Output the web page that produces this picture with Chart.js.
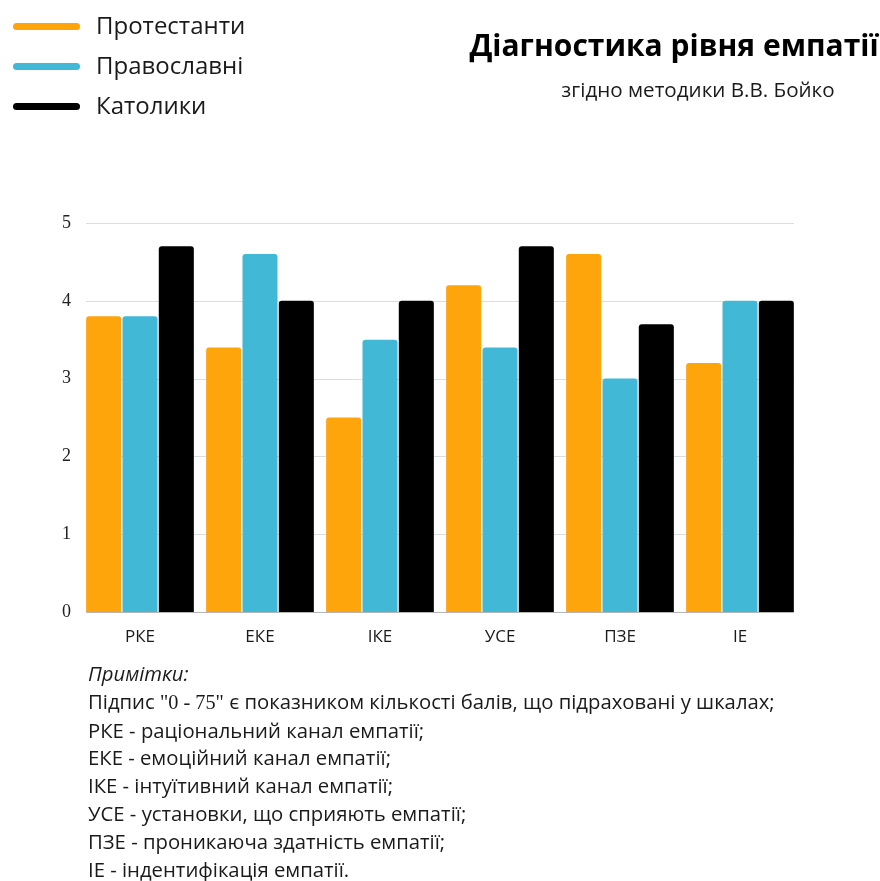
<!DOCTYPE html>
<html>
<head>
<meta charset="utf-8">
<script src="https://cdn.jsdelivr.net/npm/chart.js@4.4.1/dist/chart.umd.min.js"></script>
<style>
  html, body { margin:0; padding:0; background:#fff; }
  body { width:880px; height:881px; position:relative; overflow:hidden; font-family:"Open Sans", sans-serif; color:#1a1a1a; }
  #wrap { position:absolute; left:0; top:0; width:880px; height:881px; }
  #legend { position:absolute; left:0; top:0; }
  .lg { position:absolute; left:13px; width:300px; height:40px; }
  .lg .mk { position:absolute; left:0; top:-3px; width:67px; height:7px; border-radius:4px; }
  .lg .tx { position:absolute; left:83px; top:-18px; font-size:24px; line-height:34px; white-space:nowrap; color:#1a1a1a; }
  #title { position:absolute; left:460px; width:428px; top:25px; text-align:center; font-weight:700; font-size:30px; line-height:40px; white-space:nowrap; color:#000; }
  #subtitle { position:absolute; left:520px; width:356px; top:74px; text-align:center; font-size:20.6px; line-height:30px; white-space:nowrap; color:#1a1a1a; }
  #notes { position:absolute; left:88px; top:660px; font-size:20.3px; line-height:27.8px; color:#1a1a1a; white-space:nowrap; }
  #notes .it { font-style:italic; }
  #notes .serif { font-family:"Liberation Serif", serif; }
</style>
</head>
<body>
<div id="wrap"><canvas id="c" width="880" height="881"></canvas></div>
<div id="legend"></div>
<div id="title">Діагностика рівня емпатії</div>
<div id="subtitle">згідно методики В.В. Бойко</div>
<div id="notes">
  <div class="it">Примітки:</div>
  <div>Підпис <span class="serif">"0 - 75"</span> є показником кількості балів, що підраховані у шкалах;</div>
  <div>РКЕ - раціональний канал емпатії;</div>
  <div>ЕКЕ - емоційний канал емпатії;</div>
  <div>ІКЕ - інтуїтивний канал емпатії;</div>
  <div>УСЕ - установки, що сприяють емпатії;</div>
  <div>ПЗЕ - проникаюча здатність емпатії;</div>
  <div>ІЕ - індентифікація емпатії.</div>
</div>
<script>
const categories = ["РКЕ", "ЕКЕ", "ІКЕ", "УСЕ", "ПЗЕ", "ІЕ"];
const seriesNames = ["Протестанти", "Православні", "Католики"];
const protestants = [3.8, 3.4, 2.5, 4.2, 4.6, 3.2];
const orthodox    = [3.8, 4.6, 3.5, 3.4, 3.0, 4.0];
const catholics   = [4.7, 4.0, 4.0, 4.7, 3.7, 4.0];
const yTicks = [0, 1, 2, 3, 4, 5];
const colors = ["#fea50b", "#42b8d7", "#000000"];

// HTML legend from series names
const lg = document.getElementById('legend');
seriesNames.forEach((n, i) => {
  const d = document.createElement('div');
  d.className = 'lg';
  d.style.top = (26 + i * 40) + 'px';
  d.innerHTML = '<div class="mk" style="background:' + colors[i] + '"></div><div class="tx">' + n + '</div>';
  lg.appendChild(d);
});

const gridPlugin = {
  id: 'partialGrid',
  beforeDatasetsDraw(chart) {
    const ctx = chart.ctx;
    const y = chart.scales.y;
    const first = chart.getDatasetMeta(0).data[0];
    const lastMeta = chart.getDatasetMeta(chart.data.datasets.length - 1);
    const last = lastMeta.data[lastMeta.data.length - 1];
    const x0 = first.x - first.width / 2;
    const x1 = last.x + last.width / 2;
    ctx.save();
    yTicks.forEach(v => {
      const py = Math.round(y.getPixelForValue(v)) + 0.5;
      ctx.strokeStyle = v === 0 ? '#b5b5b5' : '#dddddd';
      ctx.lineWidth = 1;
      ctx.beginPath();
      ctx.moveTo(x0, py);
      ctx.lineTo(x1, py);
      ctx.stroke();
    });
    ctx.restore();
  }
};

new Chart(document.getElementById('c'), {
  type: 'bar',
  data: {
    labels: categories,
    datasets: [
      { label: seriesNames[0], data: protestants, backgroundColor: colors[0] },
      { label: seriesNames[1], data: orthodox, backgroundColor: colors[1] },
      { label: seriesNames[2], data: catholics, backgroundColor: colors[2] }
    ]
  },
  options: {
    responsive: false,
    animation: false,
    events: [],
    layout: { padding: { top: 223, left: 34, right: 80, bottom: 229 } },
    datasets: { bar: { categoryPercentage: 0.908, barPercentage: 0.965, borderRadius: 3, borderSkipped: 'bottom' } },
    plugins: { legend: { display: false }, tooltip: { enabled: false } },
    scales: {
      x: {
        grid: { display: false, drawTicks: false },
        border: { display: false },
        ticks: { color: '#1a1a1a', font: { family: 'Open Sans', size: 17 }, padding: 15 },
        afterFit(s) { s.height = 40; }
      },
      y: {
        min: 0, max: 5,
        grid: { display: false, drawTicks: false },
        border: { display: false },
        afterBuildTicks(s) { s.ticks = yTicks.map(v => ({ value: v })); },
        ticks: { color: '#222', font: { family: 'Liberation Serif', size: 18 }, padding: 9 },
        afterFit(s) { s.width = 46; }
      }
    }
  },
  plugins: [gridPlugin]
});
</script>
</body>
</html>
